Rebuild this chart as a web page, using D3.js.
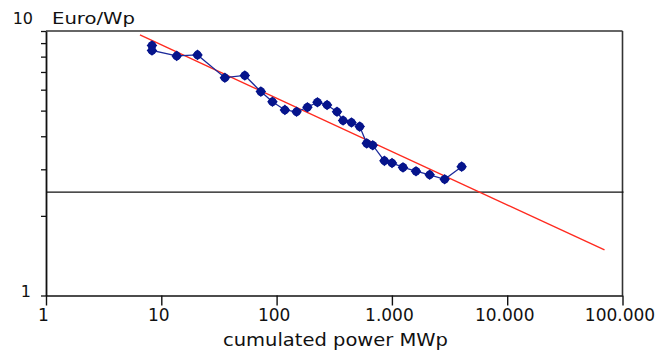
<!DOCTYPE html>
<html>
<head>
<meta charset="utf-8">
<script src="https://cdn.jsdelivr.net/npm/d3@7"></script>
<style>
  html, body { margin: 0; padding: 0; background: #fff; }
  svg { display: block; }
  text { font-family: "DejaVu Sans", Verdana, sans-serif; fill: #111; }
</style>
</head>
<body>
<svg id="chart" width="659" height="354"></svg>
<script>
// ---- data ----
const cumulatedPower = [8.3, 8.3, 13.6, 20.6, 35.6, 53, 73, 92, 118, 149, 185, 226, 274, 334, 377, 446, 526, 605, 682, 861, 1002, 1248, 1618, 2126, 2868, 4027];
const pricePerWp     = [8.81, 8.44, 8.05, 8.12, 6.66, 6.79, 5.90, 5.40, 5.03, 4.95, 5.15, 5.38, 5.25, 4.95, 4.59, 4.51, 4.35, 3.76, 3.70, 3.23, 3.17, 3.05, 2.95, 2.86, 2.75, 3.07];
const fitPower = [6.53, 69830];
const fitPrice = [9.66, 1.487];
const referencePrice = 2.46;
const xTickValues = [1, 10, 100, 1000, 10000, 100000];
const yTickValues = [1, 2, 3, 4, 5, 6, 7, 8, 9, 10];
const yLabelValues = [1, 10];
const yUnit = "Euro/Wp";
const xTitle = "cumulated power MWp";

// ---- layout ----
const svg = d3.select("#chart");
const mLeft = 46, mRight = 622.5, mTop = 31, mBottom = 295.5;

const x = d3.scaleLog().domain([1, 100000]).range([mLeft, mRight]);
const y = d3.scaleLog().domain([1, 10]).range([mBottom, mTop]);

const locale = d3.formatLocale({decimal: ",", thousands: ".", grouping: [3], currency: ["", ""]});
const fmt = locale.format(",d");

// frame: top and right
svg.append("line").attr("x1", mLeft).attr("x2", mRight).attr("y1", mTop).attr("y2", mTop)
  .attr("stroke", "#333").attr("stroke-width", 1.6);
svg.append("line").attr("x1", mRight).attr("x2", mRight).attr("y1", mTop).attr("y2", mBottom)
  .attr("stroke", "#333").attr("stroke-width", 1.6);

// reference horizontal line
svg.append("line").attr("x1", mLeft).attr("x2", mRight + 1)
  .attr("y1", y(referencePrice)).attr("y2", y(referencePrice))
  .attr("stroke", "#111").attr("stroke-width", 1.3);

// x axis
const gx = svg.append("g").attr("transform", `translate(0,${mBottom})`)
  .call(d3.axisBottom(x).tickValues(xTickValues).tickSize(10).tickSizeOuter(0).tickFormat(fmt));
gx.select(".domain").attr("stroke", "#111").attr("stroke-width", 1.6);
gx.selectAll(".tick line").attr("stroke", "#111").attr("stroke-width", 1.4);
gx.selectAll(".tick text").attr("font-size", 17).attr("font-family", "DejaVu Sans")
  .attr("fill", "#111").attr("dx", -3).attr("y", 13).attr("dy", "0.71em");

// y axis
const gy = svg.append("g").attr("transform", `translate(${mLeft},0)`)
  .call(d3.axisLeft(y).tickValues(yTickValues).tickSize(5).tickSizeOuter(0).tickFormat(""));
gy.select(".domain").attr("stroke", "#111").attr("stroke-width", 1.8);
gy.selectAll(".tick line").attr("stroke", "#111").attr("stroke-width", 1.3);

// y labels (1 and 10)
svg.selectAll(".ylab").data(yLabelValues).enter().append("text")
  .attr("class", "ylab")
  .attr("x", d => d === 10 ? 33 : 31)
  .attr("y", d => y(d) + (d === 10 ? -7 : 1))
  .attr("text-anchor", "end").attr("font-size", 16)
  .text(d => d);

// unit label
svg.append("text").attr("x", 52).attr("y", 24).attr("font-size", 16)
  .attr("textLength", 83).attr("lengthAdjust", "spacingAndGlyphs").text(yUnit);

// x title
svg.append("text").attr("x", 223).attr("y", 346).attr("font-size", 17)
  .attr("textLength", 225).attr("lengthAdjust", "spacingAndGlyphs").text(xTitle);

// fit line (red)
const fitData = fitPower.map((p, i) => [p, fitPrice[i]]);
svg.append("path").datum(fitData)
  .attr("d", d3.line().x(d => x(d[0])).y(d => y(d[1])))
  .attr("fill", "none").attr("stroke", "#ff2a1f").attr("stroke-width", 1.4);

// data line (blue)
const pts = cumulatedPower.map((p, i) => [p, pricePerWp[i]]);
svg.append("path").datum(pts)
  .attr("d", d3.line().x(d => x(d[0])).y(d => y(d[1])))
  .attr("fill", "none").attr("stroke", "#1c2a9a").attr("stroke-width", 1.3);

// markers
const sym = d3.symbol().type(d3.symbolDiamond2).size(72);
svg.selectAll(".pt").data(pts).enter().append("path")
  .attr("class", "pt")
  .attr("transform", d => `translate(${x(d[0])},${y(d[1])})`)
  .attr("d", sym)
  .attr("fill", "#06148c");
svg.selectAll(".ptc").data(pts).enter().append("circle")
  .attr("class", "ptc")
  .attr("cx", d => x(d[0])).attr("cy", d => y(d[1])).attr("r", 4.3)
  .attr("fill", "#06148c");
</script>
</body>
</html>
